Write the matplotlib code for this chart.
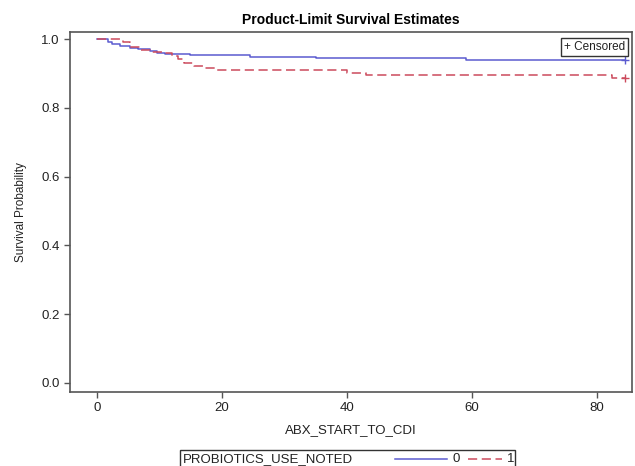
import matplotlib
matplotlib.use("Agg")
import matplotlib.pyplot as plt
from matplotlib.lines import Line2D
from matplotlib.patches import Rectangle

plt.rcParams["font.family"] = ["Liberation Sans", "DejaVu Sans"]

# Kaplan-Meier step estimates
t0 = [0, 1.8, 2.5, 3.7, 5.3, 6.6, 8.5, 9.6, 11, 15, 24.5, 35, 59, 84.5]
s0 = [1.0, 0.99, 0.985, 0.98, 0.975, 0.97, 0.965, 0.96, 0.957, 0.953, 0.948, 0.944, 0.939, 0.939]
t1 = [0, 4.2, 5.3, 7, 8.5, 10.5, 12, 13, 14, 15.5, 17, 19, 40, 43, 82.5, 84.5]
s1 = [1.0, 0.99, 0.977, 0.968, 0.962, 0.958, 0.95, 0.942, 0.93, 0.922, 0.916, 0.91, 0.90, 0.896, 0.887, 0.887]
cens0 = ([84.5], [0.939])
cens1 = ([84.5], [0.887])

BLUE = "#5b5bd0"
RED = "#cc4a5c"
GREY = "#555555"
TXT = "#222222"

fig = plt.figure(figsize=(6.35, 4.66), dpi=100)
ax = fig.add_axes([0.110, 0.159, 0.885, 0.772])

ax.step(t0, s0, where="post", color=BLUE, lw=1.1)
ax.step(t1, s1, where="post", color=RED, lw=1.1, dashes=(6, 3))
ax.plot(*cens0, marker="+", ls="none", color=BLUE, ms=6, mew=1)
ax.plot(*cens1, marker="+", ls="none", color=RED, ms=6, mew=1)

ax.set_xlim(-4.3, 85.6)
ax.set_ylim(-0.026, 1.02)
ax.set_xticks([0, 20, 40, 60, 80])
ax.set_yticks([0.0, 0.2, 0.4, 0.6, 0.8, 1.0])
ax.set_yticklabels(["0.0", "0.2", "0.4", "0.6", "0.8", "1.0"])
ax.tick_params(colors=GREY, labelcolor=TXT, labelsize=9.5, length=4, width=1)
for sp in ax.spines.values():
    sp.set_color(GREY)
    sp.set_linewidth(1.2)

ax.set_xlabel("ABX_START_TO_CDI", fontsize=9.5, color=TXT, labelpad=7)
ax.set_ylabel("Survival Probability", fontsize=8.5, color=TXT, labelpad=10)
ax.set_title("Product-Limit Survival Estimates", fontsize=10, fontweight="bold", pad=6)

# censored legend inside the axes
ax.text(0.988, 0.975, "+ Censored", transform=ax.transAxes, ha="right", va="top",
        fontsize=8.5, color=TXT,
        bbox=dict(boxstyle="square,pad=0.25", fc="white", ec="#333333", lw=1))

# group legend below the plot
fy = 1 - 459 / 466
fig.patches.append(Rectangle((180 / 635, 1 - 470 / 466), 335 / 635, 20 / 466,
                             transform=fig.transFigure, fill=False, ec="#333333", lw=1))
fig.text(183 / 635, fy, "PROBIOTICS_USE_NOTED", fontsize=9.5, va="center", color=TXT)
fig.add_artist(Line2D([395 / 635, 447 / 635], [fy, fy], color=BLUE, lw=1.1,
                      transform=fig.transFigure))
fig.text(452 / 635, fy, "0", fontsize=9.5, va="center", color=TXT)
fig.add_artist(Line2D([468 / 635, 502 / 635], [fy, fy], color=RED, lw=1.1, dashes=(6, 3),
                      transform=fig.transFigure))
fig.text(507 / 635, fy, "1", fontsize=9.5, va="center", color=TXT)

fig.savefig("out.png", dpi=100)
